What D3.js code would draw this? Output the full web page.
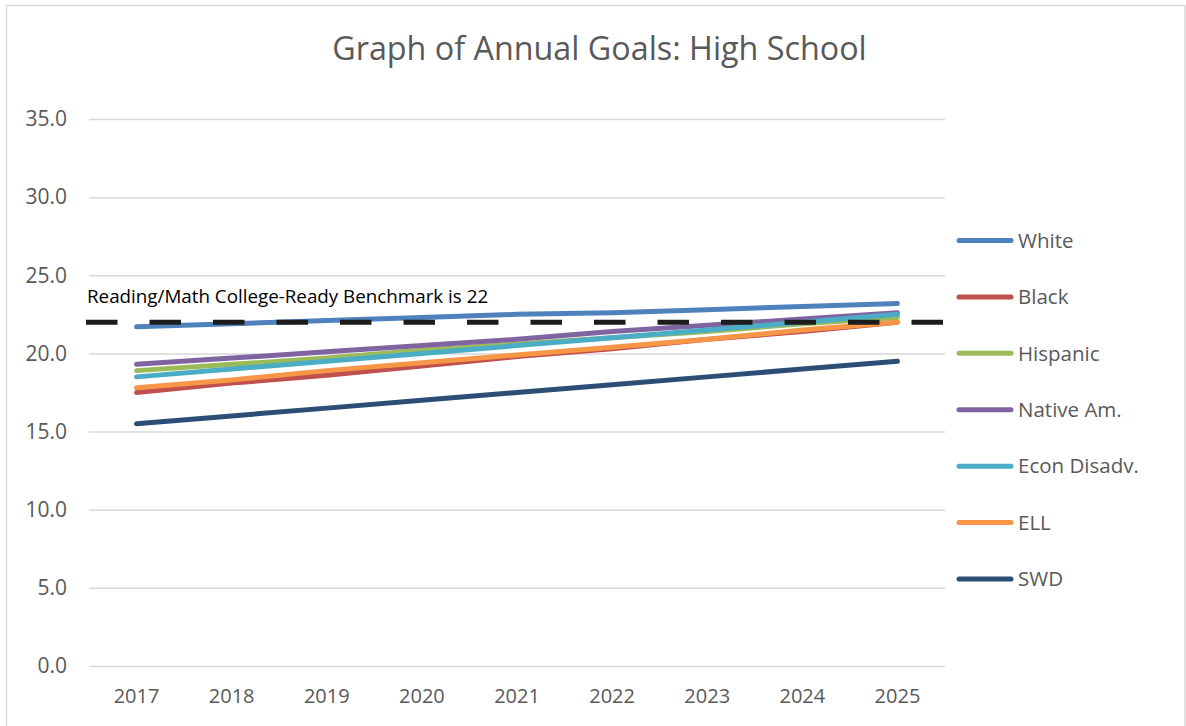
<!DOCTYPE html>
<html>
<head>
<meta charset="utf-8">
<script src="https://cdn.jsdelivr.net/npm/d3@7"></script>
<style>
  html, body { margin: 0; padding: 0; background: #fff; }
  svg { display: block; }
</style>
</head>
<body>
<svg id="chart" width="1186" height="726"></svg>
<script>
const years = [2017, 2018, 2019, 2020, 2021, 2022, 2023, 2024, 2025];
const seriesNames = ["White", "Black", "Hispanic", "Native Am.", "Econ Disadv.", "ELL", "SWD"];
const white    = [21.7, 21.9, 22.1, 22.3, 22.5, 22.6, 22.8, 23.0, 23.2];
const black    = [17.5, 18.1, 18.6, 19.2, 19.8, 20.3, 20.9, 21.4, 22.0];
const hispanic = [18.9, 19.3, 19.7, 20.2, 20.6, 21.0, 21.4, 21.9, 22.3];
const nativeAm = [19.3, 19.7, 20.1, 20.5, 20.9, 21.4, 21.8, 22.2, 22.6];
const econ     = [18.5, 19.0, 19.5, 20.0, 20.5, 21.0, 21.5, 22.0, 22.5];
const ell      = [17.8, 18.3, 18.9, 19.4, 19.9, 20.4, 20.9, 21.5, 22.0];
const swd      = [15.5, 16.0, 16.5, 17.0, 17.5, 18.0, 18.5, 19.0, 19.5];
const benchmark = 22;
const yTicks = [0, 5, 10, 15, 20, 25, 30, 35];
const titleText = "Graph of Annual Goals: High School";
const benchmarkLabel = "Reading/Math College-Ready Benchmark is 22";

const colors = ["#4F81BD", "#C0504D", "#9BBB59", "#8064A2", "#4BACC6", "#F79646", "#2C4D75"];
const seriesValues = [white, black, hispanic, nativeAm, econ, ell, swd];
const series = seriesNames.map((n, i) => ({ name: n, values: seriesValues[i], color: colors[i] }));

const svg = d3.select("#chart");
const font = "'Open Sans', 'Liberation Sans', sans-serif";

// chart frame
svg.append("rect").attr("x", 6.5).attr("y", 5.5).attr("width", 1178.5).attr("height", 730)
  .attr("fill", "#fff").attr("stroke", "#d9d9d9").attr("stroke-width", 1.5);

const plotL = 89, plotR = 945, plotT = 119, plotB = 666;
const x = d3.scaleBand().domain(years).range([plotL, plotR]);
const xc = d => x(d) + x.bandwidth() / 2;
const y = d3.scaleLinear().domain([0, 35]).range([plotB, plotT]);

// gridlines + y axis labels
const yAxis = d3.axisLeft(y).tickValues(yTicks).tickFormat(d3.format(".1f"))
  .tickSize(-(plotR - plotL)).tickPadding(22);
const gy = svg.append("g").attr("transform", `translate(${plotL},0)`).call(yAxis);
gy.select(".domain").remove();
gy.selectAll(".tick line").attr("stroke", "#d9d9d9").attr("stroke-width", 1.5);
gy.selectAll(".tick text").attr("fill", "#595959").attr("font-family", font).attr("font-size", 21);

// x axis labels
const xAxis = d3.axisBottom(x).tickSize(0).tickPadding(23);
const gx = svg.append("g").attr("transform", `translate(0,${plotB})`).call(xAxis);
gx.select(".domain").remove();
gx.selectAll(".tick text").attr("fill", "#595959").attr("font-family", font).attr("font-size", 20);

// series lines
const line = d3.line().x((d, i) => xc(years[i])).y(d => y(d));
svg.append("g").selectAll("path").data(series).join("path")
  .attr("d", d => line(d.values))
  .attr("fill", "none").attr("stroke", d => d.color)
  .attr("stroke-width", 5).attr("stroke-linecap", "round");

// benchmark dashed line
svg.append("line")
  .attr("x1", plotL - 3).attr("x2", plotR)
  .attr("y1", y(benchmark)).attr("y2", y(benchmark))
  .attr("stroke", "#1c1c1c").attr("stroke-width", 5)
  .attr("stroke-dasharray", "31.5,32");

// benchmark label
svg.append("text").attr("x", 87).attr("y", 303)
  .attr("font-family", font).attr("font-size", 18.8).attr("fill", "#000")
  .text(benchmarkLabel);

// title
svg.append("text").attr("x", 599.5).attr("y", 59.5).attr("text-anchor", "middle")
  .attr("font-family", font).attr("font-size", 32.3).attr("fill", "#595959")
  .text(titleText);

// legend
const legendY = d3.scalePoint().domain(seriesNames).range([240.5, 579]);
const lg = svg.append("g").selectAll("g").data(series).join("g")
  .attr("transform", d => `translate(0,${legendY(d.name)})`);
lg.append("line").attr("x1", 959).attr("x2", 1011).attr("y1", 0).attr("y2", 0)
  .attr("stroke", d => d.color).attr("stroke-width", 5).attr("stroke-linecap", "round");
lg.append("text").attr("x", 1018).attr("y", 0).attr("dy", "0.35em")
  .attr("font-family", font).attr("font-size", 20.5).attr("fill", "#595959")
  .text(d => d.name);
</script>
</body>
</html>
